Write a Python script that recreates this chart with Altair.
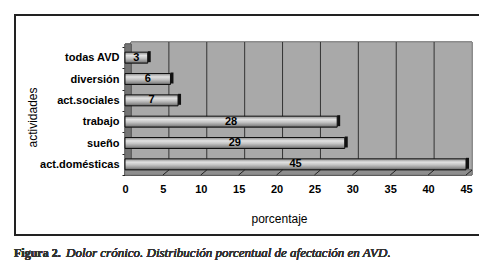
import altair as alt
import pandas as pd

categories = ["todas AVD", "diversión", "act.sociales", "trabajo", "sueño", "act.domésticas"]
values = [3, 6, 7, 28, 29, 45]
x_ticks = [0, 5, 10, 15, 20, 25, 30, 35, 40, 45]
grid_values = [5, 10, 15, 20, 25, 30, 35, 40]
floor_values = [5, 10, 15, 20, 25, 30, 35, 40, 45]

df = pd.DataFrame({"actividad": categories, "valor": values})
grid_df = pd.DataFrame({"v": grid_values})
floor_df = pd.DataFrame({"v": floor_values})

W, H = 341, 128
D = 6  # 3D depth offset in px

xscale = alt.Scale(domain=[0, 45], nice=False, zero=True)
yscale = alt.Scale(domain=categories, paddingInner=0, paddingOuter=0)

x_axis = alt.Axis(values=x_ticks, grid=False, ticks=False, tickSize=0, labelPadding=8,
                  labelOverlap=False, labelFlush=False,
                  labelFontWeight="bold", labelFontSize=11, labelFont="Liberation Sans",
                  labelColor="black", domainColor="#333333", domainWidth=1,
                  title="porcentaje", titleFont="Liberation Sans", titleFontSize=12,
                  titleFontWeight="normal", titleColor="black",
                  titleX=154, titleY=43, titleBaseline="middle", titleAlign="center")
y_axis = alt.Axis(domain=False, ticks=True, tickBand="extent", tickSize=3, tickColor="#222222",
                  labelPadding=3, labelFontWeight="bold", labelFontSize=11,
                  labelFont="Liberation Sans", labelColor="black",
                  title="actividades", titleFont="Liberation Sans", titleFontSize=12,
                  titleFontWeight="normal", titleColor="black", titleAngle=270,
                  titleX=-93, titleY=70, titleAlign="center", titleBaseline="middle")

base = alt.Chart(df)

wall = base.mark_rect(fill="#a9a9a9", stroke="#8a8a8a", strokeWidth=1, xOffset=D, x2Offset=D).encode(
    x=alt.datum(0, scale=xscale, axis=x_axis, type="quantitative"),
    x2=alt.datum(45),
    y=alt.value(-5), y2=alt.value(H - 5),
)

left_wall = base.mark_rect(fill="#747474", stroke="#555555", strokeWidth=0.5).encode(
    x=alt.value(0), x2=alt.value(D), y=alt.value(-3), y2=alt.value(H),
)

floor = base.mark_rect(fill="#8e8e8e", stroke="#666666", strokeWidth=0.5).encode(
    x=alt.value(0), x2=alt.value(W + D), y=alt.value(H - 5), y2=alt.value(H),
)

grid = alt.Chart(grid_df).mark_rule(color="#333333", strokeWidth=1, xOffset=D).encode(
    x=alt.X("v:Q", scale=xscale, axis=x_axis),
    y=alt.value(-5), y2=alt.value(H - 5),
)

floor_lines = alt.Chart(floor_df).mark_rule(color="#222222", strokeWidth=1, x2Offset=D).encode(
    x=alt.X("v:Q", scale=xscale, axis=x_axis), x2="v:Q",
    y=alt.value(H), y2=alt.value(H - 5),
)

grad = alt.Gradient(
    gradient="linear", x1=0, y1=0, x2=0, y2=1,
    stops=[
        alt.GradientStop(color="#8a8a8a", offset=0),
        alt.GradientStop(color="#e2e2e2", offset=0.3),
        alt.GradientStop(color="#c4c4c4", offset=0.55),
        alt.GradientStop(color="#8c8c8c", offset=0.85),
        alt.GradientStop(color="#555555", offset=1),
    ],
)

bars = base.mark_bar(height=11, fill=grad, stroke="#111111", strokeWidth=1).encode(
    x=alt.X("valor:Q", scale=xscale, axis=x_axis),
    y=alt.Y("actividad:N", scale=yscale, axis=y_axis, sort=categories),
)

caps = base.mark_bar(height=11, fill="#111111", x2Offset=3, yOffset=-1).encode(
    x=alt.X("valor:Q", scale=xscale, axis=x_axis), x2="valor:Q",
    y=alt.Y("actividad:N", scale=yscale, axis=y_axis, sort=categories),
)

labels = base.transform_calculate(mid="datum.valor / 2").mark_text(
    font="Liberation Sans", fontWeight="bold", fontSize=11, color="black", baseline="middle"
).encode(
    x=alt.X("mid:Q", scale=xscale, axis=x_axis),
    y=alt.Y("actividad:N", scale=yscale, axis=y_axis, sort=categories),
    text="valor:Q",
)

frame = base.mark_rect(fill=None, stroke="#222222", strokeWidth=2).encode(
    x=alt.value(-110), x2=alt.value(357), y=alt.value(-32), y2=alt.value(188),
)

cap1 = base.mark_text(text="Figura 2.", font="Liberation Serif", fontWeight="bold", fontSize=12,
                      align="left", baseline="middle", color="#333333").encode(
    x=alt.value(-111), y=alt.value(206),
)
cap2 = base.mark_text(text="Dolor crónico. Distribución porcentual de afectación en AVD.",
                      font="Liberation Serif", fontStyle="italic", fontSize=13,
                      align="left", baseline="middle", color="#333333").encode(
    x=alt.value(-59), y=alt.value(206),
)

chart = alt.layer(wall, left_wall, floor, grid, floor_lines, bars, caps, labels, frame, cap1, cap2).properties(
    width=W, height=H,
    autosize=alt.AutoSizeParams(type="none"),
    padding={"left": 117, "top": 39, "right": 13, "bottom": 92},
).configure_view(stroke=None).configure(background="white")

chart.save("out.html", embed_options={"renderer": "svg", "actions": False})
